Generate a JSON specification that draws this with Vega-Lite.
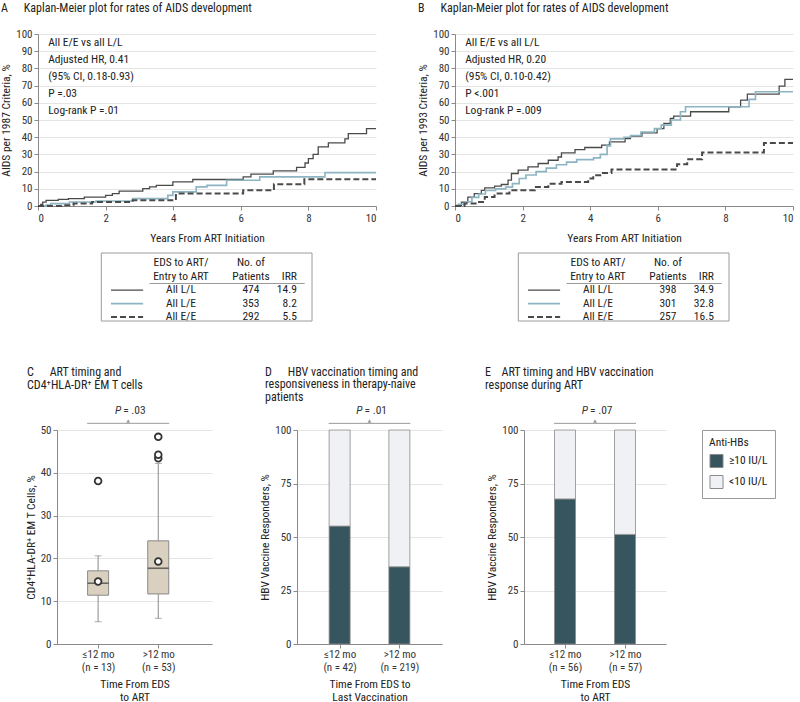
{
  "$schema": "https://vega.github.io/schema/vega-lite/v6.json",
  "padding": {"left": 0, "top": 2, "right": 0, "bottom": 0},
  "config": {
    "font": "Liberation Sans Narrow, Roboto Condensed, Roboto, sans-serif",
    "view": {"stroke": null},
    "axis": {"labelFontSize": 11, "titleFontSize": 11.5, "titleFontWeight": "normal", "labelColor": "#333", "titleColor": "#222", "domainColor": "#8a8a8a", "tickColor": "#8a8a8a", "tickSize": 4, "gridColor": "#e4e4e4", "labelPadding": 2, "grid": false, "labelLineHeight": 13, "titleLineHeight": 13},
    "title": {"fontSize": 12, "fontWeight": "normal", "color": "#222", "anchor": "start", "frame": "group", "lineHeight": 12.5},
    "legend": {"labelFontSize": 11.5, "titleFontSize": 11.5, "titleFontWeight": "normal", "labelColor": "#222", "titleColor": "#222"}
  },
  "datasets": {
    "kmA": [
      {"g": "All L/L", "t": 0, "p": 0}, {"g": "All L/L", "t": 0.08, "p": 1}, {"g": "All L/L", "t": 0.14, "p": 2.3}, {"g": "All L/L", "t": 0.24, "p": 3.3}, {"g": "All L/L", "t": 0.6, "p": 3.8}, {"g": "All L/L", "t": 0.9, "p": 4.3}, {"g": "All L/L", "t": 1.37, "p": 5.2}, {"g": "All L/L", "t": 2.0, "p": 6.2}, {"g": "All L/L", "t": 2.2, "p": 7.2}, {"g": "All L/L", "t": 2.4, "p": 8.7}, {"g": "All L/L", "t": 3.1, "p": 10.1}, {"g": "All L/L", "t": 3.3, "p": 11.1}, {"g": "All L/L", "t": 3.5, "p": 12}, {"g": "All L/L", "t": 3.99, "p": 14}, {"g": "All L/L", "t": 4.58, "p": 15.4}, {"g": "All L/L", "t": 6.07, "p": 16.9}, {"g": "All L/L", "t": 6.3, "p": 18.5}, {"g": "All L/L", "t": 6.96, "p": 20.4}, {"g": "All L/L", "t": 7.65, "p": 22.4}, {"g": "All L/L", "t": 7.9, "p": 25}, {"g": "All L/L", "t": 8.0, "p": 27.6}, {"g": "All L/L", "t": 8.14, "p": 30}, {"g": "All L/L", "t": 8.29, "p": 34.4}, {"g": "All L/L", "t": 8.59, "p": 36.7}, {"g": "All L/L", "t": 9.08, "p": 39}, {"g": "All L/L", "t": 9.18, "p": 42.1}, {"g": "All L/L", "t": 9.72, "p": 45}, {"g": "All L/L", "t": 10, "p": 45},
      {"g": "All L/E", "t": 0, "p": 0}, {"g": "All L/E", "t": 0.24, "p": 0.5}, {"g": "All L/E", "t": 0.38, "p": 1.4}, {"g": "All L/E", "t": 0.93, "p": 2.3}, {"g": "All L/E", "t": 1.72, "p": 2.9}, {"g": "All L/E", "t": 2.8, "p": 4.3}, {"g": "All L/E", "t": 3.84, "p": 6.2}, {"g": "All L/E", "t": 3.99, "p": 8.2}, {"g": "All L/E", "t": 4.68, "p": 11.1}, {"g": "All L/E", "t": 5.0, "p": 12}, {"g": "All L/E", "t": 5.58, "p": 15}, {"g": "All L/E", "t": 6.56, "p": 16.9}, {"g": "All L/E", "t": 8.49, "p": 19.4}, {"g": "All L/E", "t": 10, "p": 19.4},
      {"g": "All E/E", "t": 0, "p": 0}, {"g": "All E/E", "t": 0.7, "p": 0.4}, {"g": "All E/E", "t": 1.05, "p": 1.4}, {"g": "All E/E", "t": 1.6, "p": 2.3}, {"g": "All E/E", "t": 2.8, "p": 3.3}, {"g": "All E/E", "t": 4.08, "p": 7.2}, {"g": "All E/E", "t": 6.07, "p": 9.1}, {"g": "All E/E", "t": 6.98, "p": 12.6}, {"g": "All E/E", "t": 7.88, "p": 15.5}, {"g": "All E/E", "t": 10, "p": 15.5}
    ],
    "kmB": [
      {"g": "All L/L", "t": 0, "p": 0}, {"g": "All L/L", "t": 0.05, "p": 0.4}, {"g": "All L/L", "t": 0.19, "p": 2.3}, {"g": "All L/L", "t": 0.38, "p": 5.2}, {"g": "All L/L", "t": 0.57, "p": 7.2}, {"g": "All L/L", "t": 0.78, "p": 9.1}, {"g": "All L/L", "t": 0.88, "p": 10.5}, {"g": "All L/L", "t": 1.17, "p": 11.5}, {"g": "All L/L", "t": 1.37, "p": 12.5}, {"g": "All L/L", "t": 1.57, "p": 15}, {"g": "All L/L", "t": 1.67, "p": 18.9}, {"g": "All L/L", "t": 1.87, "p": 20.8}, {"g": "All L/L", "t": 2.16, "p": 22.7}, {"g": "All L/L", "t": 2.46, "p": 24.7}, {"g": "All L/L", "t": 2.76, "p": 26.6}, {"g": "All L/L", "t": 3.05, "p": 28.5}, {"g": "All L/L", "t": 3.15, "p": 30.9}, {"g": "All L/L", "t": 3.55, "p": 32.8}, {"g": "All L/L", "t": 3.84, "p": 34}, {"g": "All L/L", "t": 4.34, "p": 35.4}, {"g": "All L/L", "t": 4.57, "p": 37.3}, {"g": "All L/L", "t": 5.03, "p": 39.2}, {"g": "All L/L", "t": 5.19, "p": 40.6}, {"g": "All L/L", "t": 5.53, "p": 42.5}, {"g": "All L/L", "t": 5.98, "p": 45}, {"g": "All L/L", "t": 6.18, "p": 48}, {"g": "All L/L", "t": 6.37, "p": 50.9}, {"g": "All L/L", "t": 6.47, "p": 52.2}, {"g": "All L/L", "t": 6.97, "p": 54.8}, {"g": "All L/L", "t": 8.1, "p": 57.7}, {"g": "All L/L", "t": 8.45, "p": 61.6}, {"g": "All L/L", "t": 8.65, "p": 65}, {"g": "All L/L", "t": 9.59, "p": 69.7}, {"g": "All L/L", "t": 9.76, "p": 73.6}, {"g": "All L/L", "t": 10, "p": 73.6},
      {"g": "All L/E", "t": 0, "p": 0}, {"g": "All L/E", "t": 0.1, "p": 1}, {"g": "All L/E", "t": 0.3, "p": 2.5}, {"g": "All L/E", "t": 0.5, "p": 5}, {"g": "All L/E", "t": 0.7, "p": 7}, {"g": "All L/E", "t": 0.9, "p": 9}, {"g": "All L/E", "t": 1.2, "p": 10}, {"g": "All L/E", "t": 1.5, "p": 11}, {"g": "All L/E", "t": 1.7, "p": 13}, {"g": "All L/E", "t": 1.9, "p": 16}, {"g": "All L/E", "t": 2.1, "p": 18}, {"g": "All L/E", "t": 2.4, "p": 20}, {"g": "All L/E", "t": 2.7, "p": 22}, {"g": "All L/E", "t": 3.0, "p": 24}, {"g": "All L/E", "t": 3.3, "p": 25.5}, {"g": "All L/E", "t": 3.6, "p": 27}, {"g": "All L/E", "t": 4.1, "p": 28}, {"g": "All L/E", "t": 4.3, "p": 30}, {"g": "All L/E", "t": 4.5, "p": 35}, {"g": "All L/E", "t": 4.6, "p": 39}, {"g": "All L/E", "t": 5.0, "p": 40}, {"g": "All L/E", "t": 5.2, "p": 41}, {"g": "All L/E", "t": 5.5, "p": 43}, {"g": "All L/E", "t": 5.9, "p": 45}, {"g": "All L/E", "t": 6.1, "p": 47}, {"g": "All L/E", "t": 6.4, "p": 50}, {"g": "All L/E", "t": 6.67, "p": 54.8}, {"g": "All L/E", "t": 6.82, "p": 57.7}, {"g": "All L/E", "t": 8.7, "p": 62}, {"g": "All L/E", "t": 8.89, "p": 66.4}, {"g": "All L/E", "t": 10, "p": 66.4},
      {"g": "All E/E", "t": 0, "p": 0}, {"g": "All E/E", "t": 0.28, "p": 1.4}, {"g": "All E/E", "t": 0.68, "p": 2.3}, {"g": "All E/E", "t": 0.88, "p": 5.2}, {"g": "All E/E", "t": 1.17, "p": 7.2}, {"g": "All E/E", "t": 1.61, "p": 9.1}, {"g": "All E/E", "t": 2.36, "p": 11.1}, {"g": "All E/E", "t": 2.76, "p": 13}, {"g": "All E/E", "t": 3.15, "p": 14}, {"g": "All E/E", "t": 3.94, "p": 16}, {"g": "All E/E", "t": 4.09, "p": 17.9}, {"g": "All E/E", "t": 4.34, "p": 19.2}, {"g": "All E/E", "t": 4.63, "p": 21.2}, {"g": "All E/E", "t": 6.57, "p": 24.3}, {"g": "All E/E", "t": 6.87, "p": 27.2}, {"g": "All E/E", "t": 7.31, "p": 31.1}, {"g": "All E/E", "t": 9.14, "p": 36.7}, {"g": "All E/E", "t": 10, "p": 36.7}
    ],
    "annA": [{"i": 1, "txt": "All E/E vs all L/L"}, {"i": 2, "txt": "Adjusted HR, 0.41"}, {"i": 3, "txt": "(95% CI, 0.18-0.93)"}, {"i": 4, "txt": "P =.03"}, {"i": 5, "txt": "Log-rank P =.01"}],
    "annB": [{"i": 1, "txt": "All E/E vs all L/L"}, {"i": 2, "txt": "Adjusted HR, 0.20"}, {"i": 3, "txt": "(95% CI, 0.10-0.42)"}, {"i": 4, "txt": "P <.001"}, {"i": 5, "txt": "Log-rank P =.009"}],
    "tabA": [
      {"col": "grp", "row": 1, "txt": "EDS to ART/"}, {"col": "n", "row": 1, "txt": "No. of"}, {"col": "grp", "row": 2, "txt": "Entry to ART"}, {"col": "n", "row": 2, "txt": "Patients"}, {"col": "irr", "row": 2, "txt": "IRR"},
      {"col": "grp", "row": 3, "txt": "All L/L"}, {"col": "n", "row": 3, "txt": "474"}, {"col": "irr", "row": 3, "txt": "14.9"},
      {"col": "grp", "row": 4, "txt": "All L/E"}, {"col": "n", "row": 4, "txt": "353"}, {"col": "irr", "row": 4, "txt": "8.2"},
      {"col": "grp", "row": 5, "txt": "All E/E"}, {"col": "n", "row": 5, "txt": "292"}, {"col": "irr", "row": 5, "txt": "5.5"}
    ],
    "tabB": [
      {"col": "grp", "row": 1, "txt": "EDS to ART/"}, {"col": "n", "row": 1, "txt": "No. of"}, {"col": "grp", "row": 2, "txt": "Entry to ART"}, {"col": "n", "row": 2, "txt": "Patients"}, {"col": "irr", "row": 2, "txt": "IRR"},
      {"col": "grp", "row": 3, "txt": "All L/L"}, {"col": "n", "row": 3, "txt": "398"}, {"col": "irr", "row": 3, "txt": "34.9"},
      {"col": "grp", "row": 4, "txt": "All L/E"}, {"col": "n", "row": 4, "txt": "301"}, {"col": "irr", "row": 4, "txt": "32.8"},
      {"col": "grp", "row": 5, "txt": "All E/E"}, {"col": "n", "row": 5, "txt": "257"}, {"col": "irr", "row": 5, "txt": "16.5"}
    ],
    "tabLines": [{"g": "All L/L", "row": 3}, {"g": "All L/E", "row": 4}, {"g": "All E/E", "row": 5}],
    "boxC": [
      {"g": 1, "lo": 5.2, "q1": 11.4, "med": 14.2, "q3": 17.1, "hi": 20.6, "mean": 14.6},
      {"g": 2, "lo": 6.0, "q1": 11.7, "med": 17.7, "q3": 24.1, "hi": 42.2, "mean": 19.3}
    ],
    "outC": [{"g": 1, "v": 38.1}, {"g": 2, "v": 43.4}, {"g": 2, "v": 44.2}, {"g": 2, "v": 48.4}],
    "barD": [
      {"g": 1, "r": "≥10 IU/L", "o": 1, "v": 55.1}, {"g": 1, "r": "<10 IU/L", "o": 2, "v": 44.9},
      {"g": 2, "r": "≥10 IU/L", "o": 1, "v": 36.1}, {"g": 2, "r": "<10 IU/L", "o": 2, "v": 63.9}
    ],
    "barE": [
      {"g": 1, "r": "≥10 IU/L", "o": 1, "v": 67.8}, {"g": 1, "r": "<10 IU/L", "o": 2, "v": 32.2},
      {"g": 2, "r": "≥10 IU/L", "o": 1, "v": 51.2}, {"g": 2, "r": "<10 IU/L", "o": 2, "v": 48.8}
    ],
    "one": [{}],
    "pC": [{"lab": "= .03"}],
    "pD": [{"lab": "= .01"}],
    "pE": [{"lab": "= .07"}]
  },
  "resolve": {"scale": {"x": "independent", "y": "independent", "color": "independent", "strokeDash": "independent", "strokeWidth": "independent"}},
  "spacing": 42,
  "vconcat": [
    {
      "hconcat": [
        {
          "width": 338, "height": 172,
          "title": {"text": "A\u2003\u2002Kaplan-Meier plot for rates of AIDS development", "dx": -37, "offset": 13},
          "resolve": {"scale": {"y": "independent"}},
          "layer": [
            {"data": {"name": "kmA"}, "mark": {"type": "line", "interpolate": "step-after"},
             "encoding": {
               "x": {"field": "t", "type": "quantitative", "scale": {"domain": [0, 10]}, "axis": {"values": [0, 2, 4, 6, 8, 10], "title": "Years From ART Initiation", "titlePadding": 9}},
               "y": {"field": "p", "type": "quantitative", "scale": {"domain": [0, 100]}, "axis": {"values": [0, 10, 20, 30, 40, 50, 60, 70, 80, 90, 100], "title": "AIDS per 1987 Criteria, %", "grid": true, "titlePadding": 4}},
               "color": {"field": "g", "type": "nominal", "scale": {"domain": ["All L/L", "All L/E", "All E/E"], "range": ["#4a4a4a", "#8cb4c2", "#4a4a4a"]}, "legend": null},
               "strokeDash": {"field": "g", "type": "nominal", "scale": {"domain": ["All L/L", "All L/E", "All E/E"], "range": [[1, 0], [1, 0], [6, 3]]}, "legend": null},
               "strokeWidth": {"field": "g", "type": "nominal", "scale": {"domain": ["All L/L", "All L/E", "All E/E"], "range": [1.3, 2, 1.3]}, "legend": null}
             }},
            {"data": {"name": "annA"}, "mark": {"type": "text", "align": "left", "baseline": "middle", "fontSize": 11.5, "color": "#222"},
             "encoding": {"x": {"datum": 0.3, "type": "quantitative"}, "y": {"field": "i", "type": "quantitative", "scale": {"domain": [0.5, 10.5], "reverse": true, "zero": false, "nice": false}, "axis": null}, "text": {"field": "txt"}}},
            {"layer": [
              {"data": {"name": "one"}, "mark": {"type": "rect", "fill": "white", "fillOpacity": 0, "stroke": "#9a9a9a", "strokeWidth": 1},
               "encoding": {"x": {"datum": 1.873, "type": "quantitative"}, "x2": {"datum": 8.107}, "y": {"datum": 0.224, "type": "quantitative", "scale": {"domain": [-16.119, -3.284], "reverse": true, "zero": false, "nice": false}, "axis": null}, "y2": {"datum": 5.299}}},
              {"data": {"name": "one"}, "mark": {"type": "rule", "color": "#9a9a9a", "strokeWidth": 1},
               "encoding": {"x": {"datum": 3.3, "type": "quantitative"}, "x2": {"datum": 7.89}, "y": {"datum": 2.5, "type": "quantitative"}}},
              {"data": {"name": "tabLines"}, "mark": {"type": "rule"},
               "encoding": {"x": {"datum": 2.16, "type": "quantitative"}, "x2": {"datum": 3.11}, "y": {"field": "row", "type": "quantitative"},
                 "color": {"field": "g", "type": "nominal", "legend": null}, "strokeDash": {"field": "g", "type": "nominal", "legend": null}, "strokeWidth": {"field": "g", "type": "nominal", "legend": null}}},
              {"data": {"name": "tabA"}, "transform": [{"filter": "datum.col == 'grp'"}], "mark": {"type": "text", "align": "center", "baseline": "middle", "fontSize": 11.5, "color": "#222"},
               "encoding": {"x": {"datum": 4.23, "type": "quantitative"}, "y": {"field": "row", "type": "quantitative"}, "text": {"field": "txt"}}},
              {"data": {"name": "tabA"}, "transform": [{"filter": "datum.col == 'n'"}], "mark": {"type": "text", "align": "center", "baseline": "middle", "fontSize": 11.5, "color": "#222"},
               "encoding": {"x": {"datum": 6.3, "type": "quantitative"}, "y": {"field": "row", "type": "quantitative"}, "text": {"field": "txt"}}},
              {"data": {"name": "tabA"}, "transform": [{"filter": "datum.col == 'irr'"}], "mark": {"type": "text", "align": "right", "baseline": "middle", "fontSize": 11.5, "color": "#222"},
               "encoding": {"x": {"datum": 7.66, "type": "quantitative"}, "y": {"field": "row", "type": "quantitative"}, "text": {"field": "txt"}}}
            ]}
          ]
        },
        {
          "width": 338, "height": 172,
          "title": {"text": "B\u2003\u2002Kaplan-Meier plot for rates of AIDS development", "dx": -37, "offset": 13},
          "resolve": {"scale": {"y": "independent"}},
          "layer": [
            {"data": {"name": "kmB"}, "mark": {"type": "line", "interpolate": "step-after"},
             "encoding": {
               "x": {"field": "t", "type": "quantitative", "scale": {"domain": [0, 10]}, "axis": {"values": [0, 2, 4, 6, 8, 10], "title": "Years From ART Initiation", "titlePadding": 9}},
               "y": {"field": "p", "type": "quantitative", "scale": {"domain": [0, 100]}, "axis": {"values": [0, 10, 20, 30, 40, 50, 60, 70, 80, 90, 100], "title": "AIDS per 1993 Criteria, %", "grid": true, "titlePadding": 4}},
               "color": {"field": "g", "type": "nominal", "scale": {"domain": ["All L/L", "All L/E", "All E/E"], "range": ["#4a4a4a", "#8cb4c2", "#4a4a4a"]}, "legend": null},
               "strokeDash": {"field": "g", "type": "nominal", "scale": {"domain": ["All L/L", "All L/E", "All E/E"], "range": [[1, 0], [1, 0], [6, 3]]}, "legend": null},
               "strokeWidth": {"field": "g", "type": "nominal", "scale": {"domain": ["All L/L", "All L/E", "All E/E"], "range": [1.3, 2, 1.3]}, "legend": null}
             }},
            {"data": {"name": "annB"}, "mark": {"type": "text", "align": "left", "baseline": "middle", "fontSize": 11.5, "color": "#222"},
             "encoding": {"x": {"datum": 0.3, "type": "quantitative"}, "y": {"field": "i", "type": "quantitative", "scale": {"domain": [0.5, 10.5], "reverse": true, "zero": false, "nice": false}, "axis": null}, "text": {"field": "txt"}}},
            {"layer": [
              {"data": {"name": "one"}, "mark": {"type": "rect", "fill": "white", "fillOpacity": 0, "stroke": "#9a9a9a", "strokeWidth": 1},
               "encoding": {"x": {"datum": 1.873, "type": "quantitative"}, "x2": {"datum": 8.107}, "y": {"datum": 0.224, "type": "quantitative", "scale": {"domain": [-16.119, -3.284], "reverse": true, "zero": false, "nice": false}, "axis": null}, "y2": {"datum": 5.299}}},
              {"data": {"name": "one"}, "mark": {"type": "rule", "color": "#9a9a9a", "strokeWidth": 1},
               "encoding": {"x": {"datum": 3.3, "type": "quantitative"}, "x2": {"datum": 7.89}, "y": {"datum": 2.5, "type": "quantitative"}}},
              {"data": {"name": "tabLines"}, "mark": {"type": "rule"},
               "encoding": {"x": {"datum": 2.16, "type": "quantitative"}, "x2": {"datum": 3.11}, "y": {"field": "row", "type": "quantitative"},
                 "color": {"field": "g", "type": "nominal", "legend": null}, "strokeDash": {"field": "g", "type": "nominal", "legend": null}, "strokeWidth": {"field": "g", "type": "nominal", "legend": null}}},
              {"data": {"name": "tabB"}, "transform": [{"filter": "datum.col == 'grp'"}], "mark": {"type": "text", "align": "center", "baseline": "middle", "fontSize": 11.5, "color": "#222"},
               "encoding": {"x": {"datum": 4.23, "type": "quantitative"}, "y": {"field": "row", "type": "quantitative"}, "text": {"field": "txt"}}},
              {"data": {"name": "tabB"}, "transform": [{"filter": "datum.col == 'n'"}], "mark": {"type": "text", "align": "center", "baseline": "middle", "fontSize": 11.5, "color": "#222"},
               "encoding": {"x": {"datum": 6.3, "type": "quantitative"}, "y": {"field": "row", "type": "quantitative"}, "text": {"field": "txt"}}},
              {"data": {"name": "tabB"}, "transform": [{"filter": "datum.col == 'irr'"}], "mark": {"type": "text", "align": "right", "baseline": "middle", "fontSize": 11.5, "color": "#222"},
               "encoding": {"x": {"datum": 7.66, "type": "quantitative"}, "y": {"field": "row", "type": "quantitative"}, "text": {"field": "txt"}}}
            ]}
          ]
        }
      ],
      "spacing": 37,
      "resolve": {"scale": {"x": "independent", "y": "independent"}}
    },
    {
      "hconcat": [
        {"width": 1, "height": 1, "data": {"name": "one"}, "mark": {"type": "point", "size": 0, "opacity": 0}, "encoding": {}},
        {
          "hconcat": [
            {
              "width": 155, "height": 214,
              "title": {"text": ["C\u2003\u2002ART timing and", "\u2003\u2002\u2002CD4⁺HLA-DR⁺ EM T cells"], "dx": -30, "offset": 13},
              "layer": [
                {"data": {"name": "boxC"}, "mark": {"type": "rule", "color": "#8a8a8a"},
                 "encoding": {
                   "x": {"field": "g", "type": "quantitative", "scale": {"domain": [0.4, 2.81], "nice": false, "zero": false}, "axis": {"values": [1, 2], "title": ["Time From EDS", "to ART"], "titlePadding": 6, "labelPadding": 0, "labelExpr": "datum.value == 1 ? ['≤12 mo', '(n = 13)'] : ['>12 mo', '(n = 53)']"}},
                   "y": {"field": "lo", "type": "quantitative", "scale": {"domain": [0, 50]}, "axis": {"values": [0, 10, 20, 30, 40, 50], "title": "CD4⁺HLA-DR⁺ EM T Cells, %", "grid": true, "titlePadding": 4}},
                   "y2": {"field": "hi"}
                 }},
                {"data": {"name": "boxC"}, "mark": {"type": "tick", "orient": "horizontal", "size": 7, "thickness": 1, "color": "#8a8a8a"},
                 "encoding": {"x": {"field": "g", "type": "quantitative"}, "y": {"field": "lo", "type": "quantitative"}}},
                {"data": {"name": "boxC"}, "mark": {"type": "tick", "orient": "horizontal", "size": 7, "thickness": 1, "color": "#8a8a8a"},
                 "encoding": {"x": {"field": "g", "type": "quantitative"}, "y": {"field": "hi", "type": "quantitative"}}},
                {"data": {"name": "boxC"}, "mark": {"type": "bar", "orient": "vertical", "width": 21, "fill": "#d9d0bf", "stroke": "#8a8a8a", "strokeWidth": 1},
                 "encoding": {"x": {"field": "g", "type": "quantitative"}, "y": {"field": "q1", "type": "quantitative"}, "y2": {"field": "q3"}}},
                {"data": {"name": "boxC"}, "mark": {"type": "tick", "orient": "horizontal", "size": 21, "thickness": 1.6, "color": "#3a3a3a"},
                 "encoding": {"x": {"field": "g", "type": "quantitative"}, "y": {"field": "med", "type": "quantitative"}}},
                {"data": {"name": "boxC"}, "mark": {"type": "point", "filled": false, "fill": "white", "stroke": "#333", "strokeWidth": 1.8, "size": 45, "opacity": 1},
                 "encoding": {"x": {"field": "g", "type": "quantitative"}, "y": {"field": "mean", "type": "quantitative"}}},
                {"data": {"name": "outC"}, "mark": {"type": "point", "filled": false, "fill": "white", "stroke": "#333", "strokeWidth": 1.8, "size": 45, "opacity": 1},
                 "encoding": {"x": {"field": "g", "type": "quantitative"}, "y": {"field": "v", "type": "quantitative"}}},
                {"data": {"name": "one"}, "mark": {"type": "rule", "color": "#9a9a9a", "xOffset": -11, "x2Offset": 11},
                 "encoding": {"x": {"datum": 1, "type": "quantitative"}, "x2": {"datum": 2}, "y": {"datum": 51.56, "type": "quantitative"}}},
                {"data": {"name": "one"}, "mark": {"type": "point", "shape": "triangle-up", "filled": true, "color": "#9a9a9a", "size": 16, "opacity": 1},
                 "encoding": {"x": {"datum": 1.5, "type": "quantitative"}, "y": {"datum": 52.1, "type": "quantitative"}}},
                {"data": {"name": "pC"}, "mark": {"type": "text", "text": "P", "fontStyle": "italic", "align": "right", "baseline": "middle", "dx": -7, "fontSize": 11.5, "color": "#333"},
                 "encoding": {"x": {"datum": 1.5, "type": "quantitative"}, "y": {"datum": 54.44, "type": "quantitative"}}},
                {"data": {"name": "pC"}, "mark": {"type": "text", "align": "left", "baseline": "middle", "dx": -5, "fontSize": 11.5, "color": "#333"},
                 "encoding": {"x": {"datum": 1.5, "type": "quantitative"}, "y": {"datum": 54.44, "type": "quantitative"}, "text": {"field": "lab"}}}
              ]
            },
            {
              "hconcat": [
                {
                  "width": 145, "height": 214,
                  "title": {"text": ["D\u2003\u2002HBV vaccination timing and", "\u2003\u2002\u2002responsiveness in therapy-naive", "\u2003\u2002\u2002patients"], "dx": -32, "offset": 1},
                  "layer": [
                    {"data": {"name": "barD"}, "mark": {"type": "bar", "orient": "vertical", "width": 21, "stroke": "#8a8a8a", "strokeWidth": 0.8},
                     "encoding": {
                       "x": {"field": "g", "type": "quantitative", "scale": {"domain": [0.37, 2.63], "nice": false, "zero": false}, "axis": {"values": [1, 2], "title": ["Time From EDS to", "Last Vaccination"], "titlePadding": 6, "labelPadding": 0, "labelExpr": "datum.value == 1 ? ['≤12 mo', '(n = 42)'] : ['>12 mo', '(n = 219)']"}},
                       "y": {"field": "v", "type": "quantitative", "stack": "zero", "scale": {"domain": [0, 100]}, "axis": {"values": [0, 25, 50, 75, 100], "title": "HBV Vaccine Responders, %", "grid": true, "titlePadding": 4}},
                       "color": {"field": "r", "type": "nominal", "scale": {"domain": ["≥10 IU/L", "<10 IU/L"], "range": ["#37555f", "#eff1f4"]}, "legend": null},
                       "order": {"field": "o", "type": "quantitative"}
                     }},
                    {"data": {"name": "one"}, "mark": {"type": "rule", "color": "#9a9a9a", "xOffset": -11, "x2Offset": 11},
                     "encoding": {"x": {"datum": 1, "type": "quantitative"}, "x2": {"datum": 2}, "y": {"datum": 103.1, "type": "quantitative"}}},
                    {"data": {"name": "one"}, "mark": {"type": "point", "shape": "triangle-up", "filled": true, "color": "#9a9a9a", "size": 16, "opacity": 1},
                     "encoding": {"x": {"datum": 1.5, "type": "quantitative"}, "y": {"datum": 104.2, "type": "quantitative"}}},
                    {"data": {"name": "pD"}, "mark": {"type": "text", "text": "P", "fontStyle": "italic", "align": "right", "baseline": "middle", "dx": -7, "fontSize": 11.5, "color": "#333"},
                     "encoding": {"x": {"datum": 1.5, "type": "quantitative"}, "y": {"datum": 108.9, "type": "quantitative"}}},
                    {"data": {"name": "pD"}, "mark": {"type": "text", "align": "left", "baseline": "middle", "dx": -5, "fontSize": 11.5, "color": "#333"},
                     "encoding": {"x": {"datum": 1.5, "type": "quantitative"}, "y": {"datum": 108.9, "type": "quantitative"}, "text": {"field": "lab"}}}
                  ]
                },
                {
                  "width": 142, "height": 214,
                  "title": {"text": ["E\u2003ART timing and HBV vaccination", "\u2003\u2002response during ART"], "dx": -39, "offset": 13},
                  "layer": [
                    {"data": {"name": "barE"}, "mark": {"type": "bar", "orient": "vertical", "width": 21, "stroke": "#8a8a8a", "strokeWidth": 0.8},
                     "encoding": {
                       "x": {"field": "g", "type": "quantitative", "scale": {"domain": [0.4, 2.6], "nice": false, "zero": false}, "axis": {"values": [1, 2], "title": ["Time From EDS", "to ART"], "titlePadding": 6, "labelPadding": 0, "labelExpr": "datum.value == 1 ? ['≤12 mo', '(n = 56)'] : ['>12 mo', '(n = 57)']"}},
                       "y": {"field": "v", "type": "quantitative", "stack": "zero", "scale": {"domain": [0, 100]}, "axis": {"values": [0, 25, 50, 75, 100], "title": "HBV Vaccine Responders, %", "grid": true, "titlePadding": 4}},
                       "color": {"field": "r", "type": "nominal", "scale": {"domain": ["≥10 IU/L", "<10 IU/L"], "range": ["#37555f", "#eff1f4"]},
                         "legend": {"title": "Anti-HBs", "orient": "right", "offset": 36, "padding": 7, "strokeColor": "#9a9a9a", "symbolType": "square", "symbolSize": 170, "symbolStrokeColor": "#8a8a8a", "symbolStrokeWidth": 1, "rowPadding": 2, "titlePadding": 5, "labelOffset": 5}},
                       "order": {"field": "o", "type": "quantitative"}
                     }},
                    {"data": {"name": "one"}, "mark": {"type": "rule", "color": "#9a9a9a", "xOffset": -11, "x2Offset": 11},
                     "encoding": {"x": {"datum": 1, "type": "quantitative"}, "x2": {"datum": 2}, "y": {"datum": 103.1, "type": "quantitative"}}},
                    {"data": {"name": "one"}, "mark": {"type": "point", "shape": "triangle-up", "filled": true, "color": "#9a9a9a", "size": 16, "opacity": 1},
                     "encoding": {"x": {"datum": 1.5, "type": "quantitative"}, "y": {"datum": 104.2, "type": "quantitative"}}},
                    {"data": {"name": "pE"}, "mark": {"type": "text", "text": "P", "fontStyle": "italic", "align": "right", "baseline": "middle", "dx": -7, "fontSize": 11.5, "color": "#333"},
                     "encoding": {"x": {"datum": 1.5, "type": "quantitative"}, "y": {"datum": 108.9, "type": "quantitative"}}},
                    {"data": {"name": "pE"}, "mark": {"type": "text", "align": "left", "baseline": "middle", "dx": -5, "fontSize": 11.5, "color": "#333"},
                     "encoding": {"x": {"datum": 1.5, "type": "quantitative"}, "y": {"datum": 108.9, "type": "quantitative"}, "text": {"field": "lab"}}}
                  ]
                }
              ],
              "spacing": 43,
              "resolve": {"scale": {"x": "independent", "y": "independent", "color": "independent"}}
            }
          ],
          "spacing": 47,
          "resolve": {"scale": {"x": "independent", "y": "independent", "color": "independent"}}
        }
      ],
      "spacing": -14,
      "resolve": {"scale": {"x": "independent", "y": "independent", "color": "independent"}}
    }
  ]
}
